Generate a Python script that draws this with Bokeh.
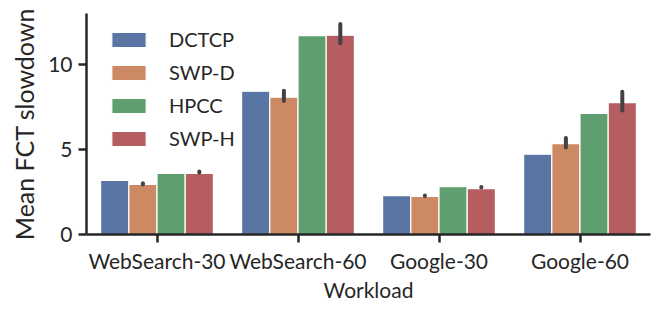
from bokeh.plotting import figure
from bokeh.models import ColumnDataSource, FixedTicker, Range1d, Legend, LegendItem
from bokeh.embed import file_html
from bokeh.resources import INLINE

workloads = ["WebSearch-30", "WebSearch-60", "Google-30", "Google-60"]
schemes = ["DCTCP", "SWP-D", "HPCC", "SWP-H"]
colors = ["#5975a4", "#cc8963", "#5f9e6e", "#b55d60"]

dctcp = [3.18, 8.43, 2.29, 4.72]
swp_d = [2.94, 8.08, 2.24, 5.35]
hpcc = [3.60, 11.70, 2.82, 7.12]
swp_h = [3.60, 11.72, 2.70, 7.76]

swp_d_lo = [2.94, 7.85, 2.26, 5.12]
swp_d_hi = [3.02, 8.45, 2.30, 5.68]
swp_h_lo = [3.65, 11.25, 2.76, 7.30]
swp_h_hi = [3.70, 12.38, 2.80, 8.40]

FONT = "Lato"
TXT = "#262626"

p = figure(width=656, height=311, output_backend="svg", toolbar_location=None,
           x_range=Range1d(-0.5, 3.5), y_range=Range1d(0, 13.0),
           min_border_left=86, min_border_right=6, min_border_top=13, min_border_bottom=77)
p.outline_line_color = None
p.grid.visible = False
p.background_fill_color = "white"

series = [dctcp, swp_d, hpcc, swp_h]
offsets = [-0.3, -0.1, 0.1, 0.3]
items = []
for name, vals, col, off in zip(schemes, series, colors, offsets):
    src = ColumnDataSource(dict(x=[i + off for i in range(len(workloads))], top=vals))
    r = p.vbar(x="x", top="top", width=0.2, bottom=0, source=src,
               fill_color=col, line_color="white", line_width=1.2)
    items.append(LegendItem(label=name, renderers=[r]))

for lo, hi, off in [(swp_d_lo, swp_d_hi, -0.1), (swp_h_lo, swp_h_hi, 0.3)]:
    xs = [i + off for i in range(len(workloads))]
    esrc = ColumnDataSource(dict(x0=xs, y0=lo, x1=xs, y1=hi))
    p.segment(x0="x0", y0="y0", x1="x1", y1="y1", source=esrc,
              line_color="#424242", line_width=4, line_cap="round")

legend = Legend(items=items, location=(21, 84), margin=0, padding=0,
                glyph_width=43, glyph_height=19, label_height=19, spacing=9,
                label_standoff=19, border_line_color=None, background_fill_alpha=0,
                label_text_font=FONT, label_text_font_size="20px", label_text_color=TXT)
p.add_layout(legend)

p.xaxis.ticker = FixedTicker(ticks=list(range(len(workloads))))
p.xaxis.major_label_overrides = {i: w for i, w in enumerate(workloads)}
p.yaxis.ticker = FixedTicker(ticks=[0, 5, 10])
p.xaxis.minor_tick_line_color = None
p.yaxis.minor_tick_line_color = None
for ax in (p.xaxis, p.yaxis):
    ax.axis_line_width = 2.5
    ax.axis_line_color = TXT
    ax.major_tick_line_width = 2.5
    ax.major_tick_line_color = TXT
    ax.major_tick_out = 8
    ax.major_tick_in = 0
    ax.major_label_text_font = FONT
    ax.major_label_text_font_size = "21px"
    ax.major_label_text_color = TXT
    ax.axis_label_text_font = FONT
    ax.axis_label_text_font_style = "normal"
    ax.axis_label_text_color = TXT
p.xaxis.axis_label_text_font_size = "21px"
p.yaxis.axis_label_text_font_size = "25px"
p.xaxis.axis_label = "Workload"
p.yaxis.axis_label = "Mean FCT slowdown"
p.xaxis.major_label_standoff = 5
p.yaxis.major_label_standoff = 6
p.xaxis.axis_label_standoff = 1
p.yaxis.axis_label_standoff = 6

open("out.html", "w").write(file_html(p, INLINE))
